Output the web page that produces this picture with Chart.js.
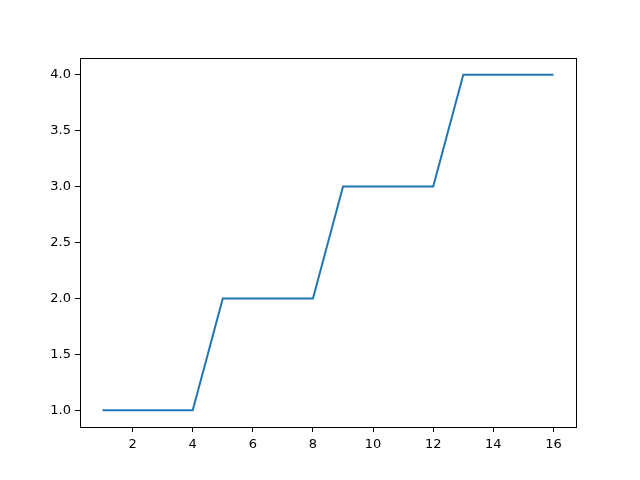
<!DOCTYPE html>
<html>
<head>
<meta charset="utf-8">
<script src="https://cdn.jsdelivr.net/npm/chart.js@4/dist/chart.umd.min.js"></script>
<style>
  html, body { margin: 0; padding: 0; background: #fff; }
  #wrap { width: 640px; height: 480px; }
</style>
</head>
<body>
<div id="wrap"><canvas id="chart" width="640" height="480"></canvas></div>
<script>
// step data
const xValues = [1, 2, 3, 4, 5, 6, 7, 8, 9, 10, 11, 12, 13, 14, 15, 16];
const yValues = [1, 1, 1, 1, 2, 2, 2, 2, 3, 3, 3, 3, 4, 4, 4, 4];
const xTicks = [2, 4, 6, 8, 10, 12, 14, 16];
const yTicks = [1.0, 1.5, 2.0, 2.5, 3.0, 3.5, 4.0];

const points = xValues.map((x, i) => ({ x: x, y: yValues[i] }));

// draws top and right spines so the axes form a box
const frameBox = {
  id: "frameBox",
  afterDraw(chart) {
    const a = chart.chartArea;
    const ctx = chart.ctx;
    ctx.save();
    ctx.strokeStyle = "#000";
    ctx.lineWidth = 1;
    ctx.strokeRect(Math.round(a.left) + 0.5, Math.round(a.top) + 0.5,
      Math.round(a.right - a.left), Math.round(a.bottom - a.top));
    ctx.restore();
  }
};

const tickFont = { family: "'DejaVu Sans', sans-serif", size: 13 };

new Chart(document.getElementById("chart"), {
  type: "line",
  data: {
    datasets: [{
      data: points,
      borderColor: "#1f77b4",
      borderWidth: 2,
      pointRadius: 0,
      fill: false,
      tension: 0
    }]
  },
  options: {
    responsive: false,
    animation: false,
    layout: { padding: { top: 58, right: 64, left: 0, bottom: 0 } },
    plugins: { legend: { display: false }, tooltip: { enabled: false } },
    scales: {
      x: {
        type: "linear",
        min: 0.25,
        max: 16.75,
        afterBuildTicks: (s) => { s.ticks = xTicks.map(v => ({ value: v })); },
        afterFit: (s) => { s.height = 53; },
        grid: { drawOnChartArea: false, tickLength: 5, color: "#000" },
        border: { color: "#000" },
        ticks: { color: "#000", font: tickFont, padding: 5, maxRotation: 0 }
      },
      y: {
        min: 0.85,
        max: 4.15,
        afterBuildTicks: (s) => { s.ticks = yTicks.map(v => ({ value: v })); },
        afterFit: (s) => { s.width = 80; },
        grid: { drawOnChartArea: false, tickLength: 5, color: "#000" },
        border: { color: "#000" },
        ticks: { color: "#000", font: tickFont, padding: 4, callback: (v) => v.toFixed(1) }
      }
    }
  },
  plugins: [frameBox]
});
</script>
</body>
</html>
